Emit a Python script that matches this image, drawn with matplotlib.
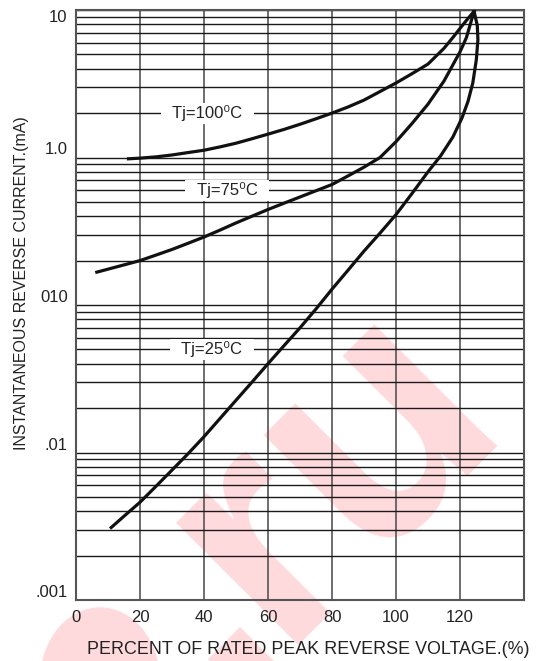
import matplotlib
matplotlib.use('Agg')
import matplotlib.pyplot as plt
from matplotlib.patches import Circle, Polygon
from matplotlib.ticker import FixedLocator, NullFormatter, LogLocator

plt.rcParams['font.family'] = ['Liberation Sans', 'DejaVu Sans']

# percent of rated peak reverse voltage vs reverse current (mA)
x_100 = [16.4, 20, 25, 30, 35, 40, 45, 50, 55, 60, 65, 70, 75, 80, 85, 90, 95, 100,
         105, 110, 115, 118, 120, 122, 124.4]
i_100 = [0.98, 0.99, 1.01, 1.04, 1.08, 1.12, 1.18, 1.25, 1.34, 1.44, 1.55, 1.68, 1.83,
         2.0, 2.2, 2.45, 2.8, 3.2, 3.7, 4.3, 5.5, 6.6, 7.5, 8.5, 9.8]

x_75 = [6.5, 10, 15, 20, 25, 30, 35, 40, 45, 50, 55, 60, 65, 70, 75, 80, 85, 90, 95,
        100, 105, 110, 115, 120, 122, 124.4]
i_75 = [0.167, 0.175, 0.187, 0.2, 0.218, 0.238, 0.262, 0.289, 0.322, 0.36, 0.40, 0.444,
        0.49, 0.54, 0.595, 0.656, 0.75, 0.86, 1.0, 1.28, 1.7, 2.3, 3.3, 5.2, 6.5, 9.8]

x_25 = [11, 15, 20, 25, 30, 35, 40, 45, 50, 55, 60, 65, 70, 75, 80, 85, 90, 95, 100,
        105, 110, 114, 117.8, 120.6, 122.5, 124.0, 125.1, 125.6, 125.4, 124.4]
i_25 = [0.0031, 0.0037, 0.0046, 0.0059, 0.0076, 0.0098, 0.0128, 0.017, 0.0226, 0.030,
        0.040, 0.053, 0.070, 0.094, 0.128, 0.172, 0.232, 0.307, 0.41, 0.57, 0.80, 1.03,
        1.38, 1.85, 2.4, 3.2, 4.6, 6.3, 7.85, 9.8]

curve_labels = ['Tj=100\u2070C', 'Tj=75\u2070C', 'Tj=25\u2070C']
label_pos = [(41, 2.0), (47.3, 0.6), (42.5, 0.05)]

x_ticks = [0, 20, 40, 60, 80, 100, 120]
y_ticks = [0.001, 0.01, 0.1, 1, 10]
y_ticklabels = ['.001', '.01', '010', '1.0', '10']

W, H = 538, 661
PINK = '#ffdadd'


def px(x, y):
    # picture pixels (from top-left) -> figure fraction
    return (x / W, 1 - y / H)


fig = plt.figure(figsize=(W / 100, H / 100), dpi=100, facecolor='white')
ax = fig.add_axes([76 / W, 61 / H, 448 / W, 590 / H])
ax.patch.set_facecolor('none')

ax.set_yscale('log')
ax.set_xlim(0, 140)
ax.set_ylim(0.001, 10)

ax.xaxis.set_major_locator(FixedLocator(x_ticks))
ax.yaxis.set_major_locator(FixedLocator(y_ticks))
ax.yaxis.set_minor_locator(LogLocator(base=10, subs=range(2, 10)))
ax.yaxis.set_minor_formatter(NullFormatter())
ax.set_yticklabels(y_ticklabels)

ax.grid(True, axis='x', which='major', color='#555555', lw=1.2, zorder=1)
ax.grid(True, axis='y', which='both', color='#1a1a1a', lw=1.0, zorder=1)
ax.set_axisbelow(True)

ax.tick_params(which='both', length=0)
ax.tick_params(axis='x', pad=7, labelsize=12, labelcolor='#222222')
ax.tick_params(axis='y', pad=6, labelsize=12, labelcolor='#222222')
for lab in ax.get_yticklabels():
    lab.set_verticalalignment('bottom')
ax.get_yticklabels()[-1].set_verticalalignment('top')

for sp in ax.spines.values():
    sp.set_color('#555555')
    sp.set_linewidth(1.5)

for xs, ys in [(x_100, i_100), (x_75, i_75), (x_25, i_25)]:
    ax.plot(xs, ys, color='#111111', lw=2.3, solid_joinstyle='round', zorder=4)

for txt, (tx, ty) in zip(curve_labels, label_pos):
    ax.text(tx, ty, '  ' + txt + '  ', ha='center', va='center', fontsize=12,
            color='#222222', zorder=5,
            bbox=dict(boxstyle='square,pad=0.15', fc='white', ec='none'))

fig.text(308 / W, 1 - 650 / H, 'PERCENT OF RATED PEAK REVERSE VOLTAGE.(%)',
         ha='center', va='center', fontsize=12.9, color='#222222')
fig.text(22 / W, 1 - 283 / H, 'INSTANTANEOUS REVERSE CURRENT.(mA)',
         ha='center', va='center', rotation=90, fontsize=11.5, color='#222222')

# pink watermark, sits under the grid
fig.text(*px(332, 470), 'ru', rotation=45, rotation_mode='anchor',
         ha='center', va='center', fontsize=235, fontweight='bold',
         color=PINK, zorder=-1)
# bits of the next watermark peeking in at the bottom edge
fig.add_artist(Circle(px(100, 681), 60 / W, transform=fig.transFigure,
                      fc=PINK, ec='none', zorder=-1))
fig.add_artist(Polygon([px(240, 627), px(208, 659), px(250, 701), px(282, 669)],
                       closed=True, transform=fig.transFigure,
                       fc=PINK, ec='none', zorder=-1))

fig.savefig('out.png', dpi=100)
